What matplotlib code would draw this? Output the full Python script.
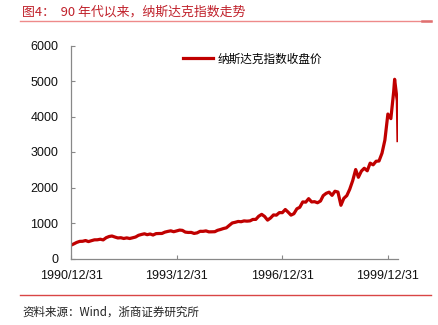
import matplotlib
matplotlib.use("Agg")
import matplotlib.pyplot as plt
import matplotlib.dates as mdates
import pandas as pd

# Nasdaq Composite closes, month ends 1990-12 .. 2000-02, plus the 2000 peak and April slide
dates = (list(pd.date_range("1990-12-31", "2000-02-29", freq="ME"))
         + [pd.Timestamp("2000-03-10"), pd.Timestamp("2000-03-31"),
            pd.Timestamp("2000-04-07"), pd.Timestamp("2000-04-14")])

closes = [
    373.8,
    414.2, 453.1, 482.3, 484.7, 506.1, 475.9, 502.0, 525.7, 526.9, 542.9, 523.9, 586.3,
    620.2, 633.5, 603.8, 578.7, 585.3, 563.6, 580.8, 563.1, 583.3, 605.2, 652.7, 677.0,
    696.3, 670.8, 690.1, 661.4, 700.5, 703.9, 705.0, 742.8, 762.8, 779.3, 754.4, 777.0,
    800.5, 792.5, 743.5, 733.8, 735.2, 706.0, 722.2, 765.6, 764.3, 777.5, 750.3, 752.0,
    755.2, 793.7, 817.2, 844.0, 864.6, 933.5, 1001.2, 1020.1, 1043.5, 1036.1, 1059.2, 1052.1,
    1059.8, 1100.1, 1101.4, 1190.5, 1243.4, 1185.0, 1080.6, 1141.5, 1226.9, 1221.5, 1292.6, 1291.0,
    1379.9, 1309.0, 1221.7, 1261.4, 1400.3, 1442.1, 1593.8, 1587.3, 1685.7, 1593.6, 1600.6, 1570.4,
    1619.4, 1770.5, 1835.7, 1868.4, 1778.9, 1894.7, 1872.4, 1499.3, 1693.8, 1771.4, 1949.5, 2192.7,
    2505.9, 2288.0, 2461.4, 2542.9, 2470.5, 2686.1, 2638.5, 2739.4, 2746.2, 2966.4, 3336.2, 4069.3,
    3940.4, 4696.7,
    5048.6, 4572.8, 4446.5, 3321.3,
]

x_ticks = ["1990-12-31", "1993-12-31", "1996-12-31", "1999-12-31"]
x_tick_labels = ["1990/12/31", "1993/12/31", "1996/12/31", "1999/12/31"]
y_ticks = [0, 1000, 2000, 3000, 4000, 5000, 6000]

series_name = "纳斯达克指数收盘价"
title = "图4：  90 年代以来，纳斯达克指数走势"
source = "资料来源：Wind，浙商证券研究所"

cjk = ["Noto Sans CJK SC", "DejaVu Sans"]
latin = ["Liberation Sans", "DejaVu Sans"]

fig = plt.figure(figsize=(4.39, 3.25), dpi=100)
ax = fig.add_axes([71 / 439, 1 - 258.5 / 325, 327 / 439, 213 / 325])

ax.plot(dates, closes, color="#C00000", lw=2.3, solid_joinstyle="round", label=series_name)

ax.set_xlim(pd.Timestamp("1990-12-31"), pd.Timestamp("2000-04-14"))
ax.set_ylim(0, 6000)
ax.set_yticks(y_ticks)
ax.set_xticks([mdates.date2num(pd.Timestamp(d)) for d in x_ticks])
ax.set_xticklabels(x_tick_labels)

for side in ("top", "right"):
    ax.spines[side].set_visible(False)
for side in ("left", "bottom"):
    ax.spines[side].set_color("#888888")
    ax.spines[side].set_linewidth(0.9)

ax.tick_params(axis="both", direction="in", length=3, width=0.8, color="#888888",
               labelsize=9.0, labelcolor="#111111")
ax.tick_params(axis="y", pad=9)
ax.tick_params(axis="x", pad=8)
for lbl in ax.get_xticklabels() + ax.get_yticklabels():
    lbl.set_family(latin)

leg = ax.legend(loc="upper left", bbox_to_anchor=(0.32, 1.0), frameon=False,
                prop={"family": cjk, "size": 8.4}, handlelength=2.6, handletextpad=0.4,
                borderaxespad=0.2)

# Header and footer of the exhibit
fig.text(22 / 439, 1 - 12 / 325, title, family=cjk, size=9.3, color="#C0202A", va="center", ha="left")
fig.add_artist(plt.Line2D([20 / 439, 431 / 439], [1 - 20.7 / 325] * 2, color="#EE8A8A", lw=1.0))
fig.add_artist(plt.Line2D([422 / 439, 431 / 439], [1 - 21.0 / 325] * 2, color="#E07070", lw=1.8))
fig.add_artist(plt.Line2D([20 / 439, 431 / 439], [1 - 295 / 325] * 2, color="#D94545", lw=1.0))
fig.text(22 / 439, 1 - 312 / 325, source, family=cjk, size=8.3, color="#222222", va="center", ha="left")

fig.savefig("out.png", dpi=100)
